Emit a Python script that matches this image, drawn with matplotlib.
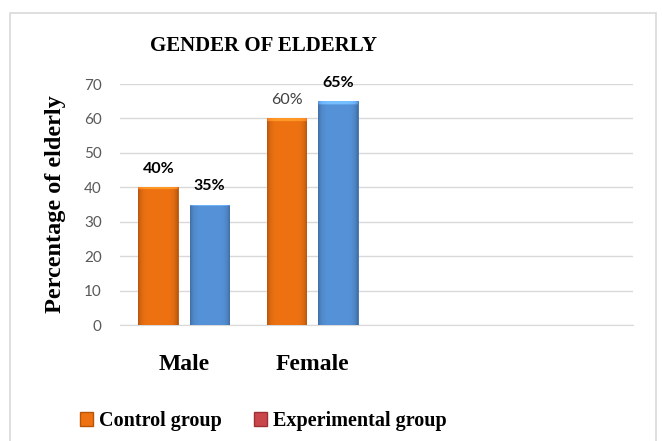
import matplotlib
matplotlib.use("Agg")
import matplotlib.pyplot as plt
from matplotlib.patches import Patch, Rectangle
from matplotlib.colors import to_rgb
import numpy as np

# ----------------------------------------------------------------------------
# Data
# ----------------------------------------------------------------------------
categories = ["Male", "Female", "", ""]
control = [40, 60, np.nan, np.nan]
experimental = [35, 65, np.nan, np.nan]
control_labels = ["40%", "60%"]
experimental_labels = ["35%", "65%"]
y_ticks = [0, 10, 20, 30, 40, 50, 60, 70]
legend_names = ["Control group", "Experimental group"]

ORANGE = "#EE7212"
BLUE = "#5592D8"
RED = "#C9474A"
GRID = "#D9D9D9"
SERIF = ["Liberation Serif", "DejaVu Serif"]
SANS = ["Lato", "DejaVu Sans"]


def bevel(ax, bars, color):
    """Paint a soft bevel over each bar (darker sides, light top edge)."""
    base = np.array(to_rgb(color))
    nx, ny = 40, 200
    xs = np.linspace(-1, 1, nx)
    shade = 1 - 0.22 * np.abs(xs) ** 6
    img = np.ones((ny, nx, 3)) * base * shade[None, :, None]
    img[:3] = np.clip(img[:3] * 1.2 + 0.06, 0, 1)
    for b in bars:
        h = b.get_height()
        if not np.isfinite(h):
            continue
        x0 = b.get_x()
        im = ax.imshow(img, extent=(x0, x0 + b.get_width(), 0, h), origin="upper",
                       aspect="auto", zorder=3.5, interpolation="bilinear")
        im.set_clip_path(b)


fig = plt.figure(figsize=(6.62, 4.41), dpi=100)
ax = fig.add_axes([0.181, 0.263, 0.775, 0.5465])

# outer chart border
fig.patches.append(Rectangle((10 / 662, -0.05), 646 / 662, 1.05 - 13 / 441,
                             transform=fig.transFigure, fill=False,
                             edgecolor=GRID, linewidth=1.2))

x = np.arange(len(categories))
w = 0.31
b1 = ax.bar(x - 0.2, control, w, color=ORANGE, edgecolor="#B85508", linewidth=0.6, zorder=3)
b2 = ax.bar(x + 0.2, experimental, w, color=BLUE, edgecolor="#3C6FA8", linewidth=0.6, zorder=3)
bevel(ax, b1, ORANGE)
bevel(ax, b2, BLUE)

for i, lab in enumerate(control_labels):
    style = dict(color="#404040", fontweight="normal") if lab == "60%" else dict(color="black", fontweight="bold")
    ax.annotate(lab, (x[i] - 0.2, control[i]), xytext=(0, 13), textcoords="offset points",
                ha="center", va="center", fontsize=11.5, family=SANS, **style)
for i, lab in enumerate(experimental_labels):
    ax.annotate(lab, (x[i] + 0.2, experimental[i]), xytext=(0, 13), textcoords="offset points",
                ha="center", va="center", fontsize=11.5, family=SANS, fontweight="bold", color="black")

ax.set_xlim(-0.5, len(categories) - 0.5)
ax.set_ylim(0, 70)
ax.set_yticks(y_ticks)
ax.set_yticklabels([str(t) for t in y_ticks], family=SANS, fontsize=11, color="#595959")
ax.set_xticks(x[:2])
ax.set_xticklabels(categories[:2], family=SERIF, fontsize=17, fontweight="bold")
ax.tick_params(axis="both", length=0)
ax.tick_params(axis="x", pad=21)
ax.tick_params(axis="y", pad=13)
ax.grid(axis="y", color=GRID, linewidth=1, zorder=0)
for s in ["top", "right", "left"]:
    ax.spines[s].set_visible(False)
ax.spines["bottom"].set_color(GRID)

ax.set_ylabel("Percentage of elderly", family=SERIF, fontsize=17.5, fontweight="bold")
ax.yaxis.set_label_coords(-0.105, 0.5)

fig.text(263 / 662, 1 - 46 / 441, "GENDER OF ELDERLY", ha="center", va="center",
         family=SERIF, fontsize=15, fontweight="bold")

handles = [Patch(facecolor=ORANGE, edgecolor="#B85508"), Patch(facecolor=RED, edgecolor="#9E3033")]
fig.legend(handles, legend_names, loc="center", bbox_to_anchor=(263.5 / 662, 1 - 421 / 441),
           ncol=2, frameon=False, handlelength=0.65, handleheight=0.65, handletextpad=0.3,
           columnspacing=1.6, prop={"family": SERIF, "size": 14.5, "weight": "bold"})

fig.savefig("out.png", dpi=100)
